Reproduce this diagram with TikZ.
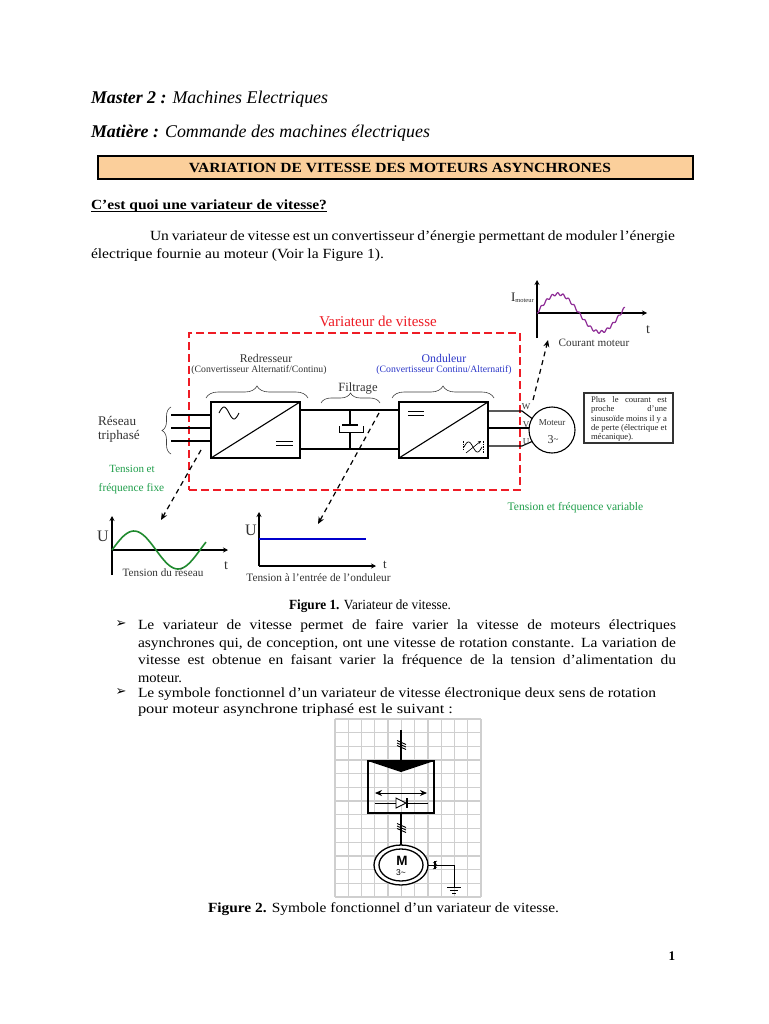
\documentclass[tikz,border=0pt]{standalone}
\usepackage{graphicx}
\usepackage{fontspec}
\setmainfont{Liberation Serif}
\newfontfamily\symfont{DejaVu Sans}
\newfontfamily\helv{Liberation Sans}
\usetikzlibrary{arrows.meta,decorations.pathreplacing,calc,shapes.geometric}
\definecolor{redline}{HTML}{EE1C25}
\definecolor{greent}{HTML}{1E9E4A}
\definecolor{bluet}{HTML}{2A35C8}
\definecolor{orangefill}{HTML}{FBCF9B}
\definecolor{purplew}{HTML}{8E2C96}
\definecolor{sinegreen}{HTML}{1F8A2E}
\definecolor{gridgray}{HTML}{CFCFCF}
\newcommand{\fs}[1]{\fontsize{#1}{#1}\selectfont}
% fit: stretch a line horizontally to a given width, keeping its height
\newcommand{\fit}[2]{\resizebox{#1}{\height}{#2}}
\tikzset{
  x=1pt,y=-1pt,
  every node/.style={inner sep=0pt,outer sep=0pt},
  txt/.style={anchor=west,font=\fs{14},yshift=-2pt},
  lab/.style={anchor=center,text=black!80},
  conv/.style={draw=black,line width=1.4pt,minimum width=89pt,minimum height=56pt,anchor=north west},
  wire/.style={draw=black,line width=1.1pt},
  dasharrow/.style={draw=black,line width=1.2pt,dash pattern=on 5pt off 4pt,-{Stealth[length=7pt,width=6pt]}},
  axis/.style={draw=black,line width=1.3pt,-{Stealth[length=5pt,width=5pt]}},
  bracegr/.style={draw=black!75,line width=.6pt,decorate},
  notel/.style={anchor=west,font=\fs{8.6},text=black!85},
  ticks/.style={line width=.9pt},
}
\begin{document}
\begin{tikzpicture}
\useasboundingbox (0,0) rectangle (768,1024);
\fill[white] (0,0) rectangle (768,1024);
% header
\node[txt,font=\fs{17.9},yshift=-1pt] (l1) at (91,96) {\textbf{\textit{Master 2 :}} \textit{Machines Electriques}};
\node[txt,font=\fs{17.9},yshift=-1pt] (l2) at (91,130) {\textbf{\textit{Matière :}} \textit{Commande des machines électriques}};
\node[draw=black,line width=2.4pt,fill=orangefill,minimum width=595pt,minimum height=23pt,anchor=north west] (title) at (98,156) {};
\node[anchor=center,font=\fs{14}\bfseries] (titlet) at (400,167.5) {\fit{422pt}{VARIATION DE VITESSE DES MOTEURS ASYNCHRONES}};
\node[txt,font=\fs{14}\bfseries] (l3) at (91,204) {\fit{236pt}{C’est quoi une variateur de vitesse?}};
\draw[black,line width=.8pt] (91,211) -- (327,211);
\node[txt] (p1) at (150,235) {\resizebox{525pt}{\height}{\hbox to 474pt{Un variateur de vitesse est un convertisseur d’énergie permettant de moduler l’énergie}}};
\node[txt] (p2) at (91,253) {\fit{293pt}{électrique fournie au moteur (Voir la Figure 1).}};
% red frame
\node[draw=redline,line width=2.8pt,dash pattern=on 8pt off 4pt,minimum width=331pt,minimum height=157pt,anchor=north west] (frame) at (189,333) {};
\node[lab,text=redline,font=\fs{15}] (vt) at (378,321) {Variateur de vitesse};
% converters
\node[conv] (rect) at (211,402) {};
\node[conv] (ond) at (399,402) {};
\draw[line width=1.1pt] (rect.south west) -- (rect.north east);
\draw[line width=1.1pt] (ond.south west) -- (ond.north east);
\draw[line width=.9pt] plot[smooth,domain=0:360,samples=30] ({219+\x/360*20},{413-6*sin(\x)});
\draw[line width=.9pt] (276,441) -- (293,441) (276,445) -- (293,445);
\draw[line width=.9pt] (408,411) -- (424,411) (408,415) -- (424,415);
\draw[line width=.7pt] plot[smooth,domain=0:360,samples=30] ({464+\x/360*18},{447-5*sin(\x)});
\draw[line width=.6pt,-{Stealth[length=3pt,width=3pt]}] (466,453) -- (481,441);
\draw[line width=.5pt,dash pattern=on 1.5pt off 1pt] (463,441) -- (463,451) (483,441) -- (483,453);
% labels
\node[lab,font=\fs{11.8}] (rd) at (266,358) {Redresseur};
\node[lab,font=\fs{9.75}] (rd2) at (259,370) {(Convertisseur Alternatif/Continu)};
\node[lab,text=bluet,font=\fs{11.8}] (on) at (444,358) {Onduleur};
\node[lab,text=bluet,font=\fs{9.75}] (on2) at (444,370) {(Convertisseur Continu/Alternatif)};
\node[lab,font=\fs{12.6}] (fi) at (358,388) {Filtrage};
\node[anchor=west,text=black!80,font=\fs{13.2}] (re1) at (98,421) {Réseau};
\node[anchor=west,text=black!80,font=\fs{13.2}] (re2) at (98,436) {triphasé};
\node[lab,text=greent,font=\fs{11}] (g1) at (132,469) {Tension et};
\node[lab,text=greent,font=\fs{11.4}] (g2) at (131.5,489) {fréquence fixe};
\node[lab,text=greent,font=\fs{11.5}] (g3) at (575.5,508) {Tension et fréquence variable};
% braces
\draw[bracegr,decoration={brace,amplitude=12pt}] (206,398) -- (308,398);
\draw[bracegr,decoration={brace,amplitude=10pt}] (321,403) -- (380,403);
\draw[bracegr,decoration={brace,amplitude=12pt}] (392,398) -- (494,398);
\draw[bracegr,decoration={brace,amplitude=9pt}] (171,454) -- (171,407);
% input wires
\foreach \yy in {415,428,441} \draw[wire] (171,\yy) -- (rect.west |- 0,\yy);
% DC bus
\draw[wire] (rect.east |- 0,410) -- (ond.west |- 0,410);
\draw[wire] (rect.east |- 0,449) -- (ond.west |- 0,449);
% capacitor
\coordinate (captop) at (350,410);
\coordinate (capbot) at (350,449);
\draw[wire] (captop) -- (350,425);
\draw[line width=2.2pt] (342,425) -- (358,425);
\draw[line width=1pt] (339,426) -- (339,432) -- (363,432) -- (363,426);
\draw[wire] (350,432) -- (capbot);
% motor
\node[draw=black,line width=1.1pt,circle,minimum size=46pt] (mot) at (552,430) {};
\node[lab,font=\fs{9}] (motl) at (552,423) {Moteur};
\node[lab,font=\fs{12}] (mot3) at (553,440) {3\raisebox{1pt}{\fs{9}\textasciitilde}};
\draw[wire] (ond.east |- 0,411) -- (522,411) -- (mot.150);
\draw[wire] (ond.east |- 0,428) -- (mot.west |- 0,428);
\draw[wire] (ond.east |- 0,446) -- (522,446) -- (mot.210);
\node[lab,font=\fs{9}] (w) at (526,407) {W};
\node[lab,font=\fs{9}] (v) at (526,425) {V};
\node[lab,font=\fs{9}] (u) at (526,442) {U};
% note
\node[draw=black!80,line width=1.2pt,anchor=north west,minimum width=89pt,minimum height=50pt,fill=white] (note) at (584,393) {};
\node[notel] (n1) at (591,400) {\hbox to 76pt{Plus\hfill le\hfill courant\hfill est}};
\node[notel] (n2) at (591,409.5) {\hbox to 76pt{proche\hfill d’une}};
\node[notel] (n3) at (591,419) {\fit{76pt}{sinusoïde moins il y a}};
\node[notel] (n4) at (591,428) {\fit{76pt}{de perte (électrique et}};
\node[notel] (n5) at (591,437) {mécanique).};
% dashed arrows
\coordinate (da1) at (201,450); \coordinate (da1e) at (161,520);
\coordinate (da2) at (379,413); \coordinate (da2e) at (318,524);
\coordinate (da3) at (533,400); \coordinate (da3e) at (548,340);
\draw[dasharrow] (da1) -- (da1e);
\draw[dasharrow] (da2) -- (da2e);
\draw[dasharrow] (da3) -- (da3e);
% plot 1
\coordinate (p1o) at (112,550);
\draw[axis] (112,575) -- (112,516);
\draw[axis,line width=1.6pt] (p1o) -- (228,550);
\draw[sinegreen,line width=1.6pt] plot[smooth,domain=0:94,samples=50] ({112+\x},{550-19*sin(4.0909*\x)});
\node[lab,font=\fs{16}] (u1) at (103,536) {U};
\node[lab,font=\fs{11.2}] (c1) at (163,573) {Tension du réseau};
\node[lab,font=\fs{14}] (t1) at (226,566) {t};
% plot 2
\draw[axis] (259,566) -- (259,512);
\draw[axis] (259,566) -- (376,566);
\draw[blue!80!black,line width=1.6pt] (259,539) -- (366,539);
\node[lab,font=\fs{16}] (u2) at (251,530) {U};
\node[lab,font=\fs{11.3}] (c2) at (318.5,578) {Tension à l’entrée de l’onduleur};
\node[lab,font=\fs{13}] (t2) at (385,565) {t};
% plot 3
\draw[axis] (537,338) -- (537,280);
\draw[axis] (537,313) -- (647,313);
\draw[purplew,line width=1.2pt] plot[domain=0:88,samples=260] ({537+\x},{313-19*sin(4.2857*\x)+1.3*sin(65.45*\x)});
\node[anchor=west,text=black!85,font=\fs{13}] (im) at (511,298) {I\raisebox{-1pt}{\fs{6.5}moteur}};
\node[lab,font=\fs{14}] (t3) at (648,330) {t};
\node[lab,font=\fs{11.2}] (c3) at (594,343) {Courant moteur};
% figure 1 text
\node[txt] (f1) at (289,604) {\fit{162pt}{\textbf{Figure 1.} Variateur de vitesse.}};
\node[anchor=center,font=\symfont\fs{13}] (b1) at (121,624) {➢};
\node[txt] (a1) at (138,624) {\resizebox{538pt}{\height}{\hbox to 486pt{Le variateur de vitesse permet de faire varier la vitesse de moteurs électriques}}};
\node[txt] (a2) at (138,642) {\resizebox{538pt}{\height}{\hbox to 486pt{asynchrones qui, de conception, ont une vitesse de rotation constante. La variation de}}};
\node[txt] (a3) at (138,659) {\resizebox{538pt}{\height}{\hbox to 486pt{vitesse est obtenue en faisant varier la fréquence de la tension d’alimentation du}}};
\node[txt] (a4) at (138,677) {\fit{44pt}{moteur.}};
\node[anchor=center,font=\symfont\fs{13}] (b2) at (121,692) {➢};
\node[txt] (a5) at (138,692) {\fit{518pt}{Le symbole fonctionnel d’un variateur de vitesse électronique deux sens de rotation}};
\node[txt] (a6) at (138,708) {\fit{315pt}{pour moteur asynchrone triphasé est le suivant :}};
% figure 2
\foreach \i in {0,...,11} \draw[gridgray,line width=1.3pt] ({335+\i*13.27},719) -- ({335+\i*13.27},897);
\foreach \i in {0,...,13} \draw[gridgray,line width=1.3pt] (335,{719+\i*13.69}) -- (481,{719+\i*13.69});
\node[draw=black,line width=1.1pt,minimum width=66pt,minimum height=52pt,anchor=north west] (sbox) at (368,761) {};
\fill[black] (sbox.north west) -- (sbox.north east) -- (401,772) -- cycle;
\coordinate (stop) at (401,730);
\draw[line width=1.1pt] (stop) -- (sbox.north);
\foreach \d in {-2.5,0,2.5} \draw[ticks] (397,{745+\d-2}) -- (406,{745+\d+2});
\draw[line width=.9pt,{Stealth[length=7pt,width=6pt]}-{Stealth[length=7pt,width=6pt]}] (375,793) -- (427,793);
\draw[line width=.9pt] (375,803) -- (396,803) (406,803) -- (428,803);
\draw[line width=.9pt,fill=white] (396,798) -- (406,803) -- (396,808) -- cycle;
\draw[line width=1.1pt] (407,798) -- (407,808);
\node[draw=black,line width=1.3pt,ellipse,minimum width=54pt,minimum height=40pt,fill=white] (mo) at (401,865) {};
\node[draw=black,line width=1.3pt,ellipse,minimum width=44pt,minimum height=32pt] (moi) at (401,865) {};
\draw[line width=1.1pt] (sbox.south) -- (mo.north);
\foreach \d in {-2.5,0,2.5} \draw[ticks] (397,{828+\d-2}) -- (406,{828+\d+2});
\node[anchor=center,font=\helv\bfseries\fs{13.5}] (mm) at (402,861) {M};
\node[anchor=center,font=\helv\fs{8.5}] (m3) at (401,873) {3\textasciitilde};
\coordinate (gnd) at (454,887);
\draw[line width=.9pt] (mo.east) -- (454,865) -- (gnd);
\draw[line width=1.1pt] (435,861) -- (435,869);
\foreach \d in {-3,0,3} \draw[line width=.6pt] (433,{865+\d+1}) -- (437,{865+\d-1});
\draw[line width=.9pt] (447,887) -- (461,887);
\draw[line width=.9pt] (450,890) -- (458,890);
\draw[line width=.9pt] (452,893) -- (456,893);
\node[txt] (f2) at (208,907) {\fit{351pt}{\textbf{Figure 2.} Symbole fonctionnel d’un variateur de vitesse.}};
\node[anchor=center,font=\fs{13.2}\bfseries] (pg) at (672,956) {1};
\end{tikzpicture}
\end{document}
